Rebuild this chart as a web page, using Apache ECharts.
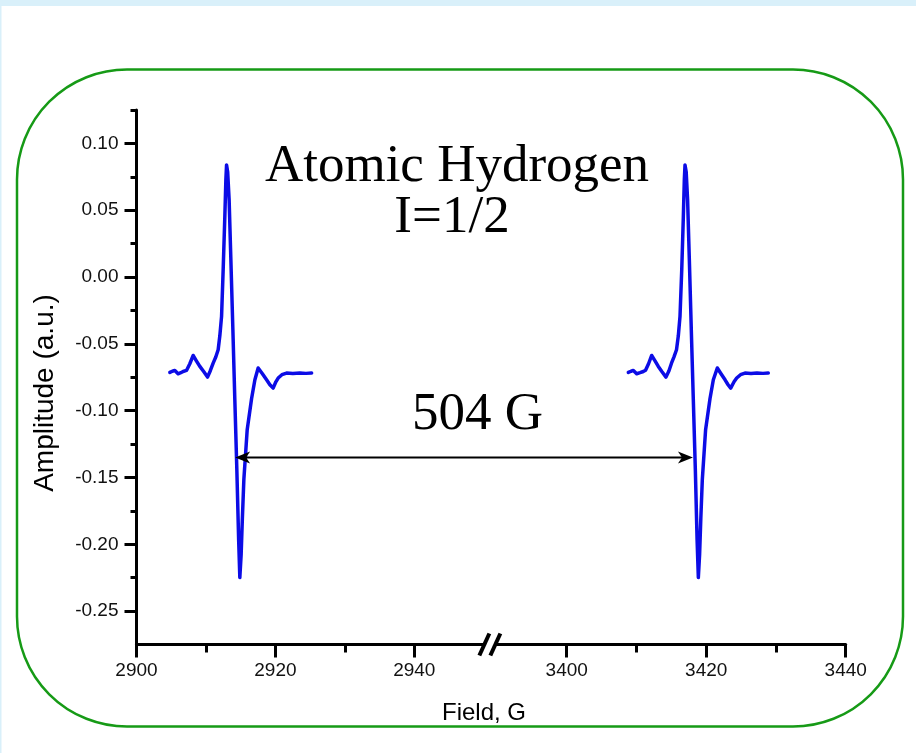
<!DOCTYPE html>
<html>
<head>
<meta charset="utf-8">
<title>Atomic Hydrogen EPR</title>
<script src="https://cdn.jsdelivr.net/npm/echarts@6/dist/echarts.min.js"></script>
<style>
  html, body { margin: 0; padding: 0; background: #ffffff; }
  #chart { width: 916px; height: 753px; }
</style>
</head>
<body>
<div id="chart"></div>
<script>
// Low-field hyperfine line (G, a.u.)
const fieldLow = [2904.80, 2905.16, 2905.52, 2905.99, 2906.38, 2906.71, 2907.20, 2907.68, 2908.16, 2908.62,
  2909.12, 2909.70, 2910.23, 2910.63, 2911.04, 2911.43, 2911.76, 2912.00, 2912.25, 2912.48,
  2912.72, 2912.87, 2912.97, 2913.13, 2913.34, 2913.59, 2913.88, 2914.16, 2914.45, 2914.71,
  2914.88, 2915.07, 2915.24, 2915.46, 2915.94, 2916.57, 2917.05, 2917.52, 2918.13, 2918.73,
  2919.21, 2919.68, 2920.07, 2920.40, 2920.94, 2921.61, 2922.52, 2923.53, 2924.40, 2925.22];
const ampLow = [-0.0714, -0.0705, -0.0699, -0.0724, -0.0716, -0.0707, -0.0699, -0.0649, -0.0587, -0.0627,
  -0.0669, -0.0709, -0.0749, -0.0701, -0.0644, -0.0597, -0.0544, -0.0440, -0.0295, 0.0054,
  0.0452, 0.0727, 0.0839, 0.0786, 0.0577, 0.0129, -0.0395, -0.0918, -0.1442, -0.1965,
  -0.2249, -0.2077, -0.1815, -0.1516, -0.1143, -0.0911, -0.0769, -0.0681, -0.0724, -0.0769,
  -0.0806, -0.0831, -0.0784, -0.0756, -0.0731, -0.0719, -0.0722, -0.0719, -0.0721, -0.0719];

// High-field hyperfine line (G, a.u.)
const fieldHigh = [3408.83, 3409.22, 3409.55, 3410.03, 3410.51, 3410.98, 3411.30, 3411.73, 3412.18, 3412.66,
  3413.13, 3413.66, 3414.23, 3414.66, 3415.02, 3415.38, 3415.74, 3416.00, 3416.24, 3416.49,
  3416.72, 3416.86, 3416.96, 3417.13, 3417.33, 3417.58, 3417.86, 3418.15, 3418.44, 3418.69,
  3418.87, 3419.05, 3419.22, 3419.44, 3419.91, 3420.54, 3421.02, 3421.59, 3422.12, 3422.70,
  3423.13, 3423.51, 3423.99, 3424.37, 3424.92, 3425.56, 3426.42, 3427.28, 3428.14, 3428.90];
const ampHigh = [-0.0714, -0.0705, -0.0699, -0.0724, -0.0716, -0.0707, -0.0698, -0.0649, -0.0587, -0.0627,
  -0.0669, -0.0709, -0.0749, -0.0701, -0.0645, -0.0597, -0.0544, -0.0440, -0.0295, 0.0054,
  0.0452, 0.0727, 0.0839, 0.0786, 0.0577, 0.0129, -0.0395, -0.0918, -0.1442, -0.1965,
  -0.2249, -0.2077, -0.1815, -0.1516, -0.1143, -0.0911, -0.0769, -0.0681, -0.0724, -0.0769,
  -0.0806, -0.0831, -0.0784, -0.0756, -0.0731, -0.0719, -0.0722, -0.0719, -0.0721, -0.0719];

// Axis ranges and ticks
const ampRange = [-0.275, 0.125];
const ampTicks = [-0.25, -0.2, -0.15, -0.1, -0.05, 0, 0.05, 0.1];
const ampMinorTicks = [-0.225, -0.175, -0.125, -0.075, -0.025, 0.025, 0.075, 0.125];
const fieldRangeLow = [2900, 2950];
const fieldTicksLow = [2900, 2920, 2940];
const fieldMinorLow = [2910, 2930];
const fieldRangeHigh = [3390, 3440];
const fieldTicksHigh = [3400, 3420, 3440];
const fieldMinorHigh = [3410, 3430];

// Hyperfine splitting marker
const splitField = [2914.2, 3418.1];
const splitAmp = -0.135;
const splitText = '504 G';

const titleLines = ['Atomic Hydrogen', 'I=1/2'];
const xName = 'Field, G';
const yName = 'Amplitude (a.u.)';

const SANS = '"Liberation Sans", Arial, sans-serif';
const SERIF = '"Liberation Serif", "Times New Roman", serif';
const INK = '#000000';
const TRACE = '#0c0ce6';

const chart = echarts.init(document.getElementById('chart'), null, { renderer: 'canvas' });

function zip(xs, ys) { return xs.map((x, i) => [x, ys[i]]); }

function majorX(gridIndex, range, ticks) {
  return {
    type: 'value', gridIndex, min: range[0], max: range[1], position: 'bottom', offset: 0,
    axisLine: { show: true, onZero: false, lineStyle: { color: INK, width: 3 } },
    axisTick: { show: true, customValues: ticks, length: 13, lineStyle: { color: INK, width: 3 } },
    axisLabel: {
      show: true, customValues: ticks, margin: 17, fontSize: 19, fontFamily: SANS, color: '#111',
      formatter: v => String(v)
    },
    splitLine: { show: false }
  };
}
function minorX(gridIndex, range, ticks) {
  return {
    type: 'value', gridIndex, min: range[0], max: range[1], position: 'bottom', offset: 0,
    axisLine: { show: false, onZero: false },
    axisTick: { show: true, customValues: ticks, length: 8, lineStyle: { color: INK, width: 3 } },
    axisLabel: { show: false },
    splitLine: { show: false }
  };
}

const gridTop = 110, gridHeight = 534.5;

chart.setOption({
  animation: false,
  backgroundColor: '#ffffff',
  grid: [
    { left: 136.5, top: gridTop, width: 347.2, height: gridHeight, containLabel: false, outerBoundsMode: 'none' },
    { left: 497, top: gridTop, width: 348.7, height: gridHeight, containLabel: false, outerBoundsMode: 'none' }
  ],
  xAxis: [
    majorX(0, fieldRangeLow, fieldTicksLow),
    minorX(0, fieldRangeLow, fieldMinorLow),
    majorX(1, fieldRangeHigh, fieldTicksHigh),
    minorX(1, fieldRangeHigh, fieldMinorHigh)
  ],
  yAxis: [
    {
      type: 'value', gridIndex: 0, min: ampRange[0], max: ampRange[1], position: 'left', offset: 0,
      axisLine: { show: true, onZero: false, lineStyle: { color: INK, width: 3 } },
      axisTick: { show: true, customValues: ampTicks, length: 12, lineStyle: { color: INK, width: 3 } },
      axisLabel: {
        show: true, customValues: ampTicks, margin: 18, fontSize: 19, fontFamily: SANS, color: '#111',
        formatter: v => v.toFixed(2)
      },
      splitLine: { show: false }
    },
    {
      type: 'value', gridIndex: 0, min: ampRange[0], max: ampRange[1], position: 'left', offset: 0,
      axisLine: { show: false, onZero: false },
      axisTick: { show: true, customValues: ampMinorTicks, length: 6, lineStyle: { color: INK, width: 3 } },
      axisLabel: { show: false },
      splitLine: { show: false }
    },
    {
      type: 'value', gridIndex: 1, min: ampRange[0], max: ampRange[1], show: false,
      axisLine: { onZero: false }, splitLine: { show: false }
    }
  ],
  series: [
    {
      type: 'line', xAxisIndex: 0, yAxisIndex: 0, data: zip(fieldLow, ampLow),
      showSymbol: false, smooth: false, z: 5,
      lineStyle: { color: TRACE, width: 3.5, join: 'round', cap: 'round' }
    },
    {
      type: 'line', xAxisIndex: 2, yAxisIndex: 2, data: zip(fieldHigh, ampHigh),
      showSymbol: false, smooth: false, z: 5,
      lineStyle: { color: TRACE, width: 3.5, join: 'round', cap: 'round' }
    }
  ]
});

// Decorations placed through the axes' own scales
const pA = chart.convertToPixel({ seriesIndex: 0 }, [splitField[0], splitAmp]);
const pB = chart.convertToPixel({ seriesIndex: 1 }, [splitField[1], splitAmp]);
const brkL = chart.convertToPixel({ seriesIndex: 0 }, [fieldRangeLow[1], ampRange[0]]);
const brkR = chart.convertToPixel({ seriesIndex: 1 }, [fieldRangeHigh[0], ampRange[0]]);
const brkMid = (brkL[0] + brkR[0]) / 2;
const axisY = brkL[1];

function slash(cx) {
  return {
    type: 'line', z: 20,
    shape: { x1: cx - 5, y1: axisY + 11, x2: cx + 5, y2: axisY - 11 },
    style: { stroke: INK, lineWidth: 4 }
  };
}
function head(tip, dir) {
  const L = 15, W = 6, N = 11;
  return {
    type: 'polygon', z: 20,
    shape: { points: [[tip[0], tip[1]], [tip[0] + dir * L, tip[1] - W], [tip[0] + dir * N, tip[1]], [tip[0] + dir * L, tip[1] + W]] },
    style: { fill: INK }
  };
}
function label(text, x, y, font, extra) {
  return Object.assign({
    type: 'text', x, y, z: 30,
    style: { text, font, fill: INK, textAlign: 'center', textVerticalAlign: 'middle', verticalAlign: 'middle' }
  }, extra || {});
}

chart.setOption({
  graphic: [
    { type: 'rect', z: -10, shape: { x: 0, y: 0, width: 916, height: 6 }, style: { fill: '#d9f0fa' } },
    { type: 'rect', z: -10, shape: { x: 0, y: 0, width: 1.5, height: 753 }, style: { fill: '#d9f0fa' } },
    { type: 'rect', z: -5, shape: { x: 17, y: 69.5, width: 886, height: 657, r: 110 },
      style: { fill: 'none', stroke: '#169a16', lineWidth: 2.5 } },
    slash(brkMid - 6),
    slash(brkMid + 5),
    { type: 'line', z: 20, shape: { x1: pA[0] + 8, y1: pA[1], x2: pB[0] - 8, y2: pB[1] },
      style: { stroke: INK, lineWidth: 2 } },
    head(pA, 1),
    head(pB, -1),
    label(titleLines[0], 457, 167, '53px ' + SERIF),
    label(titleLines[1], 452, 218, '53px ' + SERIF),
    label(splitText, 477.5, 415.5, '53px ' + SERIF),
    label(xName, 484, 713.4, '24px ' + SANS),
    label(yName, 45.3, 393, '28px ' + SANS, { rotation: Math.PI / 2 })
  ]
});
</script>
</body>
</html>
